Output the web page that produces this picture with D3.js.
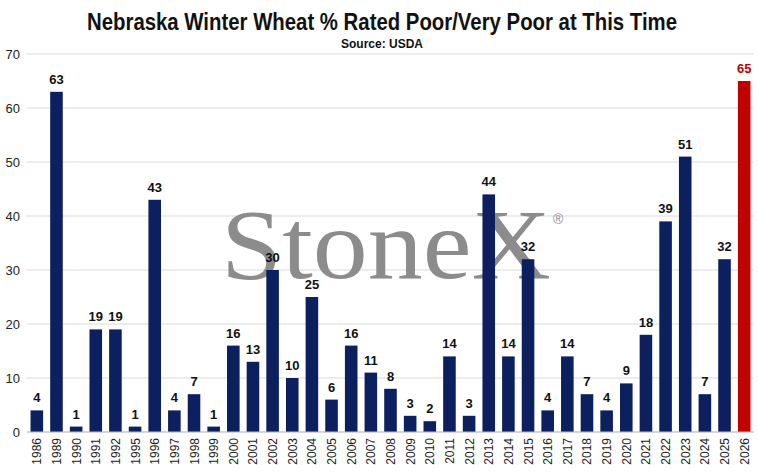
<!DOCTYPE html>
<html><head><meta charset="utf-8">
<script src="https://cdn.jsdelivr.net/npm/d3@7"></script>
<style>body{margin:0;background:#fff}</style>
</head><body><svg id="c" width="758" height="474" font-family="Liberation Sans, Arial, sans-serif"></svg>
<script>
const years=["1986","1989","1990","1991","1992","1995","1996","1997","1998","1999","2000","2001","2002","2003","2004","2005","2006","2007","2008","2009","2010","2011","2012","2013","2014","2015","2016","2017","2018","2019","2020","2021","2022","2023","2024","2025","2026"];
const values=[4,63,1,19,19,1,43,4,7,1,16,13,30,10,25,6,16,11,8,3,2,14,3,44,14,32,4,14,7,4,9,18,39,51,7,32,65];
const yTicks=[0,10,20,30,40,50,60,70];
const svg=d3.select("#c");
const x=d3.scaleBand().domain(years).range([27,754]).paddingInner(0.36).paddingOuter(0.18);
const y=d3.scaleLinear().domain([0,70]).range([432,54]);
svg.append("g").selectAll("line").data(yTicks).join("line")
 .attr("x1",27).attr("x2",754).attr("y1",d=>y(d)).attr("y2",d=>y(d)).attr("stroke","#d9d9d9");
svg.append("g").selectAll("text").data(yTicks).join("text")
 .attr("x",20).attr("y",d=>y(d)+5).attr("text-anchor","end").attr("font-size",13).attr("fill","#222").text(d=>d);
svg.append("text").attr("x",386).attr("y",278).attr("text-anchor","middle")
 .attr("font-family","Liberation Serif, DejaVu Serif, serif").attr("font-size",100).attr("fill","#8c8c8c")
 .attr("textLength",330).attr("lengthAdjust","spacingAndGlyphs").text("StoneX");
svg.append("text").attr("x",553).attr("y",224).attr("font-size",14).attr("fill","#8c8c8c").text("®");
svg.append("g").selectAll("rect").data(values).join("rect")
 .attr("x",(d,i)=>x(years[i])).attr("width",x.bandwidth()).attr("y",d=>y(d)).attr("height",d=>y(0)-y(d))
 .attr("fill",(d,i)=>i===values.length-1?"#c00000":"#0c1f5e");
svg.append("g").selectAll("text").data(values).join("text")
 .attr("x",(d,i)=>x(years[i])+x.bandwidth()/2).attr("y",d=>y(d)-8).attr("text-anchor","middle")
 .attr("font-size",13).attr("font-weight","bold").attr("fill",(d,i)=>i===values.length-1?"#c00000":"#111").text(d=>d);
svg.append("line").attr("x1",27).attr("x2",754).attr("y1",432).attr("y2",432).attr("stroke","#bfbfbf");
svg.append("g").selectAll("text").data(years).join("text")
 .attr("transform",d=>`translate(${x(d)+x.bandwidth()/2+4.5},438) rotate(-90)`).attr("text-anchor","end")
 .attr("font-size",12).attr("fill","#222").text(d=>d);
svg.append("text").attr("x",382).attr("y",30).attr("text-anchor","middle").attr("font-size",23).attr("font-weight","bold").attr("fill","#111")
 .attr("textLength",590).attr("lengthAdjust","spacingAndGlyphs")
 .text("Nebraska Winter Wheat % Rated Poor/Very Poor at This Time");
svg.append("text").attr("x",382).attr("y",48).attr("text-anchor","middle").attr("font-size",12).attr("font-weight","bold").attr("fill","#111").text("Source: USDA");
</script></body></html>
